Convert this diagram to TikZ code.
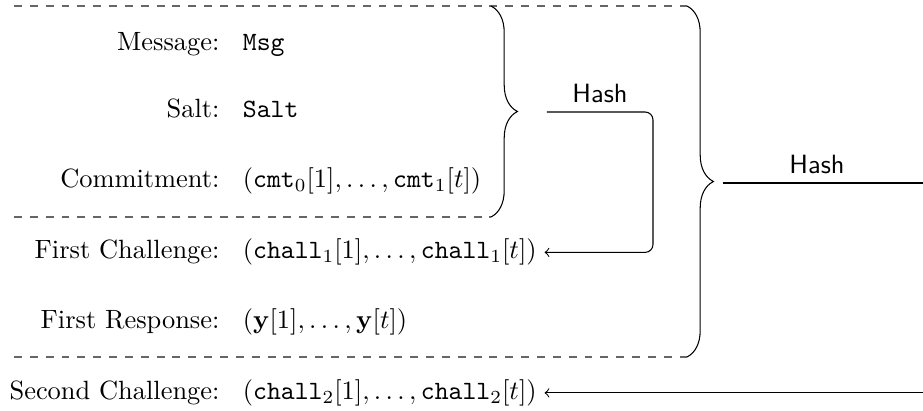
\documentclass[tikz,border=0pt]{standalone}
\usetikzlibrary{decorations.pathreplacing}
\begin{document}
\begin{tikzpicture}[x=0.013313cm,y=-0.013313cm,
  lab/.style={anchor=base east,inner sep=0pt},
  val/.style={anchor=base west,inner sep=0pt,outer xsep=3pt},
  sep/.style={dashed,black!60},
  bracestyle/.style={decorate,decoration={brace,amplitude=10pt}},
  hashlab/.style={above,font=\sffamily,inner sep=3.33pt}]
\useasboundingbox (0,0) rectangle (923,411);
% rows
\node[lab] (l1) at (220,50.5) {Message:};
\node[val] (v1) at (235,50.5) {\texttt{Msg}};
\node[lab] (l2) at (220,117.5) {Salt:};
\node[val] (v2) at (235,117.5) {\texttt{Salt}};
\node[lab] (l3) at (220,187.5) {Commitment:};
\node[val] (v3) at (235,187.5) {$(\texttt{cmt}_0[1],\ldots,\texttt{cmt}_1[t])$};
\node[lab] (l4) at (220,259) {First Challenge:};
\node[val] (v4) at (235,259) {$(\texttt{chall}_1[1],\ldots,\texttt{chall}_1[t])$};
\node[lab] (l5) at (220,329) {First Response:};
\node[val] (v5) at (235,329) {$(\mathbf{y}[1],\ldots,\mathbf{y}[t])$};
\node[lab] (l6) at (220,399.5) {Second Challenge:};
\node[val] (v6) at (235,399.5) {$(\texttt{chall}_2[1],\ldots,\texttt{chall}_2[t])$};
% separators
\coordinate (d1a) at (14,6);   \coordinate (d1b) at (687,6);
\coordinate (d2a) at (14,217); \coordinate (d2b) at (491,217);
\coordinate (d3a) at (14,357); \coordinate (d3b) at (687,357);
\coordinate (sb) at (491,6);
\draw[sep] (d1a) -- (d1b);
\draw[sep] (d2a) -- (d2b);
\draw[sep] (d3a) -- (d3b);
% braces
\draw[bracestyle] (sb) -- (d2b);
\draw[bracestyle] (d1b) -- (d3b);
% first hash
\coordinate (h1a) at (547,112);
\coordinate (h1c) at (653,112);
\draw[<-,rounded corners=3pt] (v4.east) -| (h1c) -- node[hashlab] {Hash} (h1a);
% second hash
\coordinate (h2a) at (723,183);
\coordinate (h2b) at (923,183);
\draw (h2a) -- node[hashlab,pos=0.47] {Hash} (h2b);
\draw[<-] (v6.east) -- (v6.east -| h2b);
\end{tikzpicture}
\end{document}
